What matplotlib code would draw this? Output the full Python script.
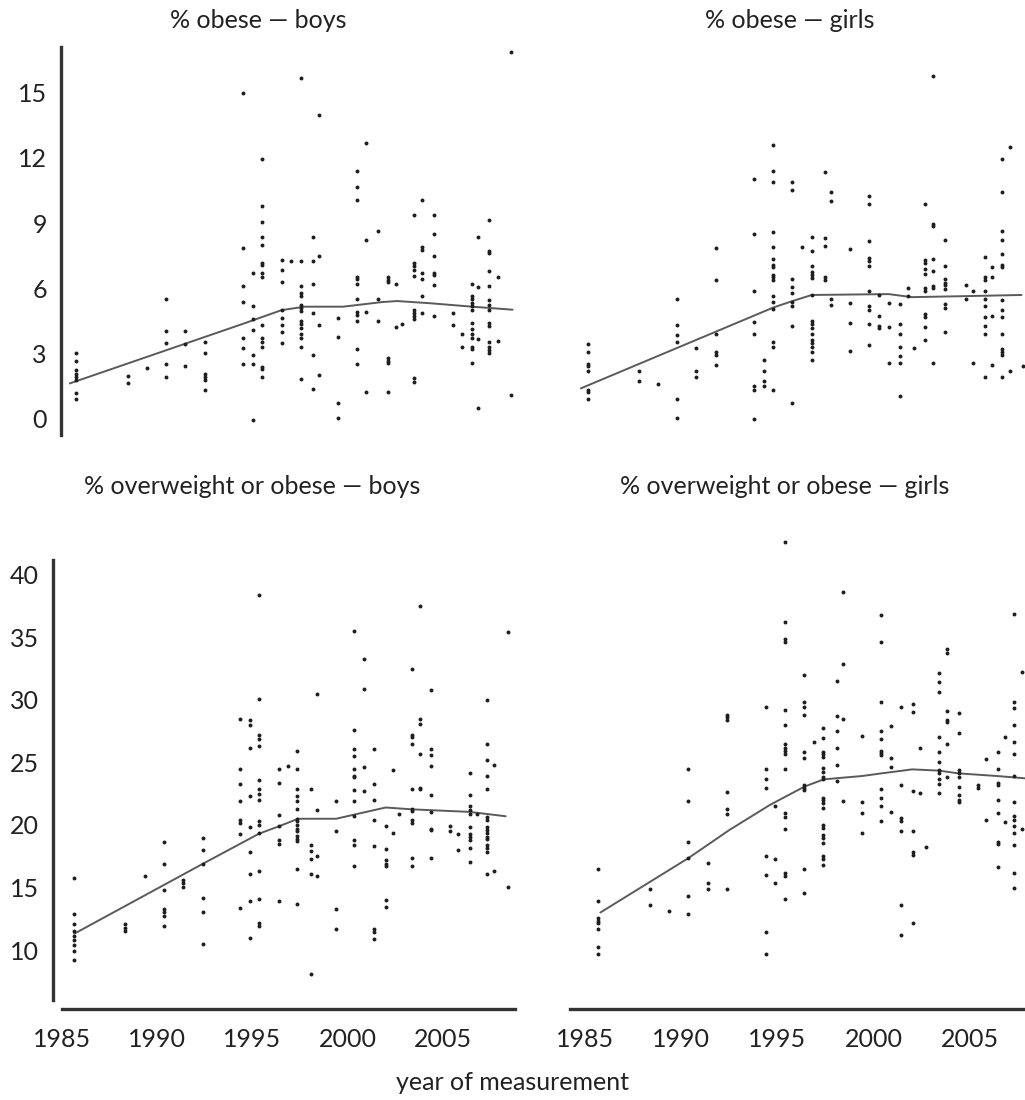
import matplotlib
matplotlib.use("Agg")
import matplotlib.pyplot as plt

plt.rcParams['font.family'] = ['Lato', 'DejaVu Sans']

# ---------------- data ----------------
# % obese - boys
ob_boys_years = [1985.6, 1988.3, 1989.3, 1990.3, 1991.3, 1992.3, 1994.3, 1994.8, 1995.3,
                 1996.3, 1996.8, 1997.3, 1997.95, 1998.25, 1999.25, 2000.2, 2000.7, 2001.3,
                 2001.85, 2002.25, 2002.55, 2003.2, 2003.6, 2004.2, 2005.2, 2005.65, 2006.2,
                 2006.5, 2007.1, 2007.55, 2008.2]
ob_boys_vals = [
    [3.0, 2.65, 2.2, 2.05, 1.9, 1.75, 1.15, 0.9],
    [1.95, 1.6],
    [2.3],
    [5.5, 4.0, 3.45, 2.5, 1.9],
    [4.0, 3.4, 2.4],
    [3.5, 3.0, 2.05, 1.9, 1.75, 1.3],
    [15.0, 7.85, 6.1, 5.35, 3.7, 3.25, 2.5],
    [6.7, 5.15, 4.55, 4.05, 2.9, 2.5, -0.1],
    [11.95, 9.8, 9.05, 8.35, 8.0, 7.15, 7.05, 6.7, 6.5, 4.3, 3.7, 3.5, 3.3, 2.35, 2.25, 1.9],
    [7.3, 6.85, 6.3, 5.0, 4.6, 4.3, 3.95, 3.45],
    [7.25],
    [15.7, 7.25, 6.1, 5.75, 5.65, 5.2, 5.1, 4.95, 4.5, 4.35, 4.15, 3.9, 3.7, 3.3, 1.8],
    [8.35, 7.25, 6.2, 4.85, 2.9, 1.35],
    [14.0, 7.5, 4.3, 2.0],
    [4.6, 3.75, 0.7, 0.0],
    [11.4, 10.65, 10.05, 6.5, 6.4, 6.2, 5.5, 4.9, 4.75, 4.5, 3.2, 2.5],
    [12.7, 8.2, 4.9, 1.2],
    [8.65, 5.5, 4.5],
    [6.5, 6.35, 6.3, 2.75, 2.65, 2.55, 1.2],
    [6.2, 4.2],
    [4.35],
    [9.35, 7.15, 7.0, 6.85, 6.55, 5.0, 4.85, 4.7, 4.55, 1.85, 1.65],
    [10.05, 7.9, 7.75, 6.7, 6.4, 5.65, 4.85],
    [9.35, 8.5, 7.5, 6.7, 6.6, 6.15, 4.7],
    [4.85, 4.3],
    [3.9, 3.3],
    [6.2, 5.65, 5.5, 5.3, 5.15, 5.0, 4.4, 4.1, 3.9, 3.7, 3.3, 3.2, 2.55],
    [8.35, 6.05, 3.65, 0.45],
    [9.15, 7.7, 7.6, 6.8, 6.1, 5.45, 5.2, 5.0, 4.4, 4.25, 3.5, 3.3, 3.15, 3.0],
    [6.5, 3.55],
    [16.9, 1.05],
]
ob_boys_trend_years = [1985.3, 1994.3, 1996.3, 1997.5, 1999.5, 2001.5, 2002.3, 2004.0, 2006.2, 2008.3]
ob_boys_trend_vals = [1.6, 4.35, 4.98, 5.14, 5.14, 5.35, 5.4, 5.3, 5.14, 5.0]

# % obese - girls
ob_girls_years = [1985.66, 1988.3, 1989.3, 1990.3, 1991.3, 1992.3, 1994.3, 1994.8, 1995.3,
                  1996.3, 1996.8, 1997.3, 1998.0, 1998.3, 1999.3, 2000.3, 2000.8, 2001.3,
                  2001.9, 2002.3, 2002.6, 2003.2, 2003.6, 2004.2, 2005.3, 2005.7, 2006.3,
                  2006.65, 2007.2, 2007.6, 2008.3]
ob_girls_vals = [
    [3.4, 3.05, 2.5, 2.4, 2.15, 1.3, 1.2, 0.9],
    [2.15, 1.7],
    [1.55],
    [5.5, 4.3, 3.85, 3.5, 0.9, 0.0],
    [3.25, 2.15, 1.9],
    [7.85, 6.35, 3.9, 3.05, 2.9, 2.45],
    [11.05, 8.5, 5.85, 4.45, 3.9, 1.5, 1.3, -0.05],
    [2.7, 2.15, 1.7, 1.5],
    [12.6, 11.4, 10.9, 8.6, 7.9, 7.35, 7.05, 6.95, 6.6, 6.5, 6.35, 5.65, 5.35, 5.05, 3.5, 3.3, 1.3],
    [10.9, 10.5, 6.4, 6.05, 5.75, 5.35, 5.15, 4.25, 0.7],
    [7.9],
    [8.35, 7.7, 7.0, 6.75, 6.6, 6.45, 5.7, 4.5, 4.35, 4.15, 3.9, 3.6, 3.45, 3.3, 3.05, 2.7],
    [11.35, 8.3, 7.95, 6.5, 6.35],
    [10.45, 10.0, 5.5, 5.2],
    [7.8, 5.3, 4.4, 3.1],
    [10.25, 9.9, 8.15, 7.4, 7.25, 7.0, 5.85, 5.15, 5.0, 4.35, 3.35],
    [5.7, 4.7, 4.25, 4.15],
    [5.3, 4.2, 2.55],
    [5.25, 4.35, 3.9, 3.3, 2.85, 2.55, 1.0],
    [6.0, 5.65],
    [3.25],
    [9.9, 7.3, 7.15, 6.9, 6.65, 6.0, 5.85, 4.8, 4.65, 4.2, 3.6],
    [15.8, 8.95, 8.85, 7.35, 6.8, 6.1, 6.0, 2.55],
    [8.2, 7.0, 6.4, 6.25, 6.15, 5.95, 5.25, 5.1, 3.95],
    [6.15, 5.5],
    [5.85, 2.55],
    [7.45, 6.5, 6.35, 5.85, 5.5, 5.15, 4.65, 4.25, 3.9, 1.9],
    [6.95, 6.5, 4.7, 2.45],
    [11.95, 10.45, 8.65, 8.2, 7.55, 7.05, 6.95, 5.45, 5.0, 4.65, 3.9, 3.2, 3.05, 2.9, 1.9],
    [12.5, 2.15],
    [2.4],
]
ob_girls_trend_years = [1985.3, 1995.3, 1996.3, 1997.3, 2001.3, 2002.5, 2005.5, 2008.2]
ob_girls_trend_vals = [1.37, 5.1, 5.4, 5.68, 5.72, 5.58, 5.63, 5.68]

# % overweight or obese - boys
ow_boys_years = [1985.64, 1988.3, 1989.35, 1990.35, 1991.35, 1992.4, 1994.37, 1994.85, 1995.34,
                 1996.38, 1996.86, 1997.36, 1998.07, 1998.37, 1999.37, 2000.36, 2000.88, 2001.4,
                 2001.99, 2002.39, 2002.7, 2003.37, 2003.8, 2004.4, 2005.38, 2005.8, 2006.42,
                 2006.8, 2007.32, 2007.7, 2008.4]
ow_boys_vals = [
    [15.8, 12.9, 12.1, 11.5, 11.1, 10.8, 10.4, 9.9, 9.2],
    [12.05, 11.8, 11.5],
    [15.9],
    [18.65, 16.9, 14.8, 13.25, 13.05, 12.7, 11.95],
    [15.6, 15.35, 15.05],
    [19.0, 18.0, 16.9, 14.2, 13.05, 10.5],
    [28.45, 24.45, 23.3, 21.95, 20.4, 20.2, 19.3, 13.4],
    [28.4, 28.0, 26.2, 22.3, 19.8, 17.8, 16.1, 13.9, 11.0],
    [38.4, 30.1, 27.2, 26.9, 26.3, 23.6, 22.9, 22.5, 22.0, 20.3, 20.0, 19.4, 16.3, 14.1, 12.2, 11.9],
    [24.5, 23.4, 20.8, 19.9, 18.8, 18.5, 13.9],
    [24.7],
    [25.9, 24.5, 22.9, 22.3, 21.95, 21.3, 20.5, 20.3, 20.0, 19.7, 19.5, 19.1, 18.9, 18.7, 16.5, 13.7],
    [22.9, 18.4, 17.9, 17.25, 16.1, 8.1],
    [30.5, 21.2, 17.5, 15.95],
    [21.9, 19.5, 13.25, 11.7],
    [35.5, 27.6, 26.1, 25.5, 24.5, 23.9, 23.8, 22.8, 21.9, 20.7, 18.8, 18.4, 16.7],
    [33.3, 30.9, 24.6, 22.7],
    [26.1, 23.3, 22.0, 20.4, 18.35, 11.7, 11.45, 10.9],
    [19.9, 18.05, 17.2, 16.9, 16.7, 14.0, 13.45],
    [24.4, 19.4],
    [20.85],
    [32.5, 27.2, 27.0, 26.5, 22.85, 21.3, 21.15, 20.4, 20.2, 17.4, 16.7],
    [37.5, 28.45, 28.1, 25.7, 23.0, 22.85],
    [30.8, 26.05, 25.6, 24.7, 22.4, 21.05, 19.7, 19.6, 17.4],
    [19.9, 19.55],
    [19.25, 18.0],
    [24.2, 22.4, 21.5, 21.2, 20.9, 19.8, 19.3, 19.05, 18.8, 18.15, 17.05],
    [20.9],
    [30.0, 26.5, 25.2, 23.95, 22.85, 20.65, 20.4, 19.85, 19.6, 19.4, 19.05, 18.9, 18.4, 18.15, 17.85, 16.1],
    [24.8, 16.35],
    [35.4, 15.05],
]
ow_boys_trend_years = [1985.64, 1990.35, 1992.4, 1995.34, 1996.4, 1997.4, 1999.4, 2000.4, 2002.0, 2003.4, 2006.4, 2008.3]
ow_boys_trend_vals = [11.3, 15.2, 16.9, 19.3, 19.9, 20.5, 20.5, 20.85, 21.4, 21.25, 21.05, 20.7]

# % overweight or obese - girls
ow_girls_years = [1985.66, 1988.38, 1989.38, 1990.37, 1991.4, 1992.4, 1994.39, 1994.87, 1995.39,
                  1996.39, 1996.9, 1997.38, 1998.1, 1998.39, 1999.4, 2000.39, 2000.88, 2001.42,
                  2002.02, 2002.4, 2002.71, 2003.39, 2003.79, 2004.41, 2005.4, 2005.83, 2006.44,
                  2006.82, 2007.3, 2007.72]
ow_girls_vals = [
    [16.45, 13.95, 12.55, 12.35, 12.15, 11.7, 10.25, 9.65],
    [14.9, 13.6],
    [13.15],
    [24.5, 21.9, 18.6, 17.4, 14.3, 12.85],
    [16.95, 15.4, 14.85],
    [28.8, 28.6, 28.4, 22.6, 21.3, 20.9, 14.9],
    [29.4, 24.45, 23.65, 22.95, 17.5, 16.0, 11.45, 9.7],
    [21.5, 17.3, 15.35],
    [42.6, 36.2, 34.85, 34.6, 29.2, 28.0, 26.5, 26.2, 25.95, 25.7, 24.45, 20.95, 20.65, 19.65, 16.15, 15.9, 14.1],
    [32.0, 29.85, 29.4, 28.8, 25.85, 25.4, 23.2, 23.0, 22.8, 16.5, 14.55],
    [26.6],
    [27.75, 26.95, 25.85, 25.7, 25.45, 24.55, 24.25, 23.8, 23.65, 22.2, 22.0, 21.75, 21.35, 20.0,
     19.75, 19.2, 19.0, 18.55, 17.5, 17.3, 16.8],
    [31.55, 28.75, 27.55, 26.2, 24.8, 23.55],
    [38.6, 32.85, 28.45, 21.9],
    [27.1, 21.8, 21.0, 19.4],
    [36.8, 34.6, 29.85, 27.55, 26.85, 25.95, 25.75, 25.6, 22.85, 22.2, 21.55, 20.3],
    [27.9, 25.35, 24.65, 21.05],
    [29.45, 23.2, 20.55, 20.35, 19.5, 13.6, 11.2],
    [29.7, 29.0, 22.75, 19.55, 17.85, 17.6, 12.15],
    [26.15, 22.55],
    [18.25],
    [32.15, 31.45, 30.65, 27.0, 25.85, 25.0, 24.4, 24.15, 23.7, 23.25, 22.55],
    [34.05, 33.8, 29.15, 28.4, 28.25, 26.5, 23.85],
    [28.95, 27.35, 24.4, 24.15, 23.85, 23.05, 22.4, 22.0, 21.8],
    [23.2, 23.0],
    [25.25, 20.4],
    [25.8, 24.45, 23.4, 23.2, 22.0, 21.0, 18.65, 18.5, 16.6],
    [27.0, 20.25],
    [36.85, 29.85, 29.35, 28.0, 26.65, 25.7, 23.9, 21.8, 20.7, 20.4, 19.9, 19.35, 18.4, 16.15, 14.95],
    [32.2, 19.7],
]
ow_girls_trend_years = [1985.8, 1990.37, 1992.5, 1994.6, 1996.4, 1997.4, 1999.4, 2000.4, 2002.0, 2003.4, 2004.4, 2006.4, 2007.9]
ow_girls_trend_vals = [13.0, 17.35, 19.6, 21.6, 23.07, 23.65, 23.92, 24.13, 24.45, 24.35, 24.13, 23.92, 23.73]

titles = ["% obese \u2014 boys", "% obese \u2014 girls",
          "% overweight or obese \u2014 boys", "% overweight or obese \u2014 girls"]
top_yticks = [0, 3, 6, 9, 12, 15]
bottom_yticks = [10, 15, 20, 25, 30, 35, 40]
xticks = [1985, 1990, 1995, 2000, 2005]
xlabel = "year of measurement"

# ---------------- layout ----------------
W, H = 1025, 1100
fig = plt.figure(figsize=(W / 100, H / 100), dpi=100)
fig.patch.set_facecolor("white")


def add_ax(x0, x1, ytop, ybot):
    return fig.add_axes([x0 / W, (H - ybot) / H, (x1 - x0) / W, (ybot - ytop) / H])


ax_tl = add_ax(69, 522, 47, 435)
ax_tr = add_ax(580, 1025, 47, 435)
ax_bl = add_ax(62, 515, 560, 1000)
ax_br = add_ax(570, 1025, 560, 1000)

ax_tl.set_xlim(1985.26, 2008.79)
ax_tr.set_xlim(1985.26, 2008.38)
ax_bl.set_xlim(1985.26, 2008.79)
ax_br.set_xlim(1984.22, 2007.86)
for a in (ax_tl, ax_tr):
    a.set_ylim(-0.78, 17.12)
for a in (ax_bl, ax_br):
    a.set_ylim(6.0, 41.2)

panels = [
    (ax_tl, ob_boys_years, ob_boys_vals, ob_boys_trend_years, ob_boys_trend_vals),
    (ax_tr, ob_girls_years, ob_girls_vals, ob_girls_trend_years, ob_girls_trend_vals),
    (ax_bl, ow_boys_years, ow_boys_vals, ow_boys_trend_years, ow_boys_trend_vals),
    (ax_br, ow_girls_years, ow_girls_vals, ow_girls_trend_years, ow_girls_trend_vals),
]

dot_color = "#1e1e1e"
line_color = "#5a5a5a"
axis_color = "#333333"

for ax, yrs, vals, tyrs, tvals in panels:
    xs, ys = [], []
    for yr, col in zip(yrs, vals):
        xs.extend([yr] * len(col))
        ys.extend(col)
    ax.scatter(xs, ys, s=8, color=dot_color, linewidths=0, zorder=3, clip_on=False)
    ax.plot(tyrs, tvals, color=line_color, lw=1.4, zorder=2, solid_capstyle="round")
    ax.set_facecolor("none")
    for side in ("top", "right", "left", "bottom"):
        ax.spines[side].set_visible(False)
    ax.set_xticks([])
    ax.set_yticks([])

# left y axes
for ax, ticks, off in ((ax_tl, top_yticks, 6), (ax_bl, bottom_yticks, 6.5)):
    ax.spines["left"].set_visible(True)
    ax.spines["left"].set_position(("outward", off))
    ax.spines["left"].set_linewidth(2.4)
    ax.spines["left"].set_color(axis_color)
    ax.set_yticks(ticks)
    ax.tick_params(axis="y", length=0, pad=10, labelsize=18, labelcolor="#222222")

# bottom x axes
for ax in (ax_bl, ax_br):
    ax.spines["bottom"].set_visible(True)
    ax.spines["bottom"].set_position(("outward", 6.5))
    ax.spines["bottom"].set_linewidth(2.4)
    ax.spines["bottom"].set_color(axis_color)
    ax.set_xticks(xticks)
    ax.tick_params(axis="x", length=0, pad=14, labelsize=18, labelcolor="#222222")


def ftext(px, py, s, **kw):
    fig.text(px / W, (H - py) / H, s, ha="center", va="center", color="#222222", **kw)


ftext(258, 20, titles[0], fontsize=18)
ftext(790, 20, titles[1], fontsize=18)
ftext(252, 487, titles[2], fontsize=18)
ftext(785, 487, titles[3], fontsize=18)
ftext(512, 1083, xlabel, fontsize=18)

fig.savefig("out.png", dpi=100, facecolor="white")
